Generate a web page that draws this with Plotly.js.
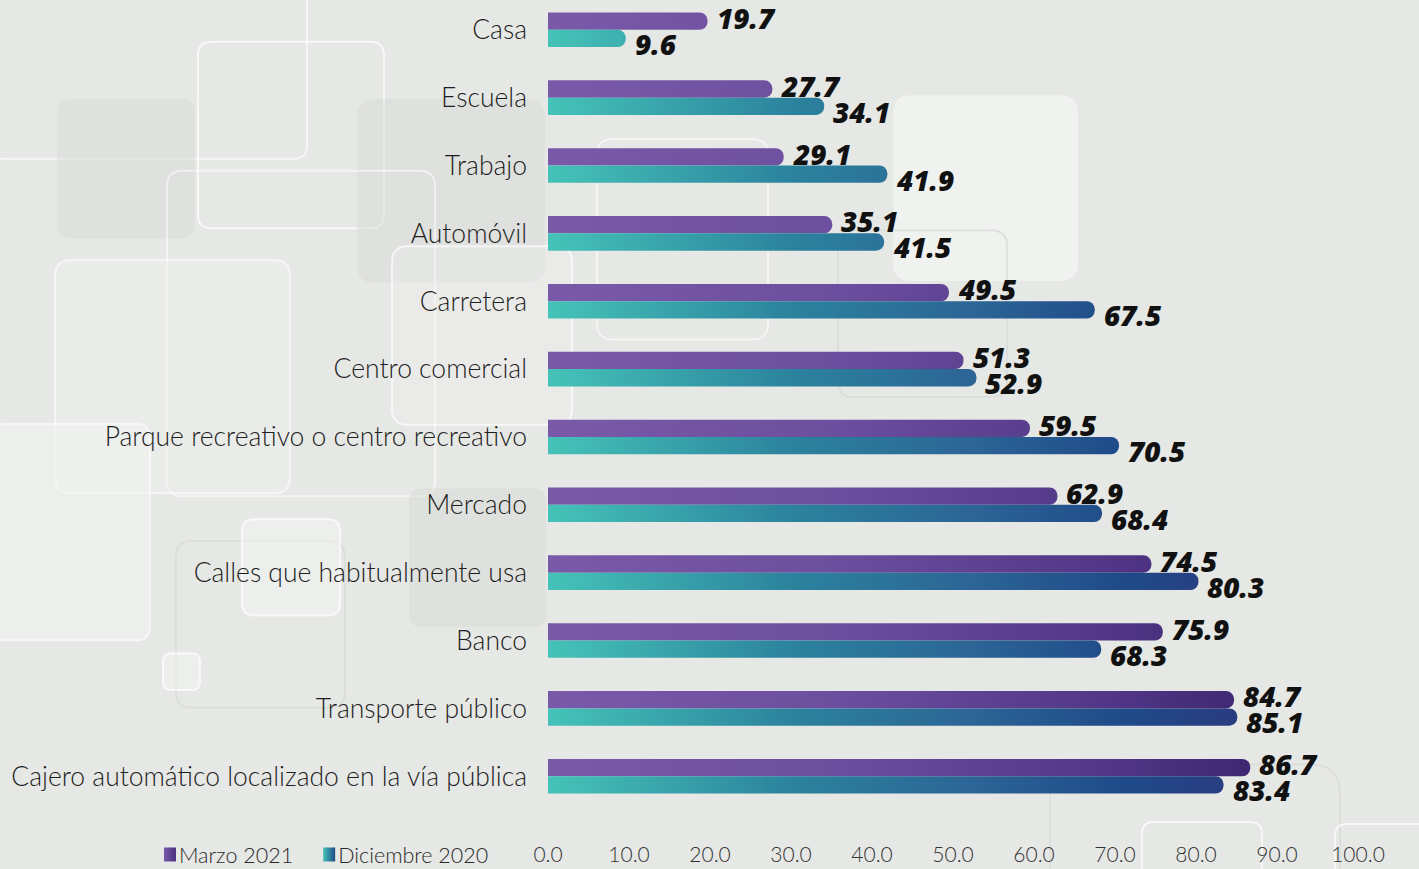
<!DOCTYPE html>
<html>
<head>
<meta charset="utf-8">
<script src="https://cdn.plot.ly/plotly-3.0.1.min.js"></script>
<style>
  html, body { margin: 0; padding: 0; background: #e6e8e5; }
  #chart { width: 1419px; height: 869px; }
</style>
</head>
<body>
<div id="chart"></div>
<script>
// categories, top to bottom
var lugares = [
  'Casa', 'Escuela', 'Trabajo', 'Automóvil', 'Carretera', 'Centro comercial',
  'Parque recreativo o centro recreativo', 'Mercado', 'Calles que habitualmente usa',
  'Banco', 'Transporte público', 'Cajero automático localizado en la vía pública'
];
var marzo2021 = [19.7, 27.7, 29.1, 35.1, 49.5, 51.3, 59.5, 62.9, 74.5, 75.9, 84.7, 86.7];
var diciembre2020 = [9.6, 34.1, 41.9, 41.5, 67.5, 52.9, 70.5, 68.4, 80.3, 68.3, 85.1, 83.4];
var xTicks = [0, 10, 20, 30, 40, 50, 60, 70, 80, 90, 100];

var labelFont = 'Lato, "Noto Sans", sans-serif';
var numFont = '"Open Sans", "Noto Sans", sans-serif';

var trace1 = {
  type: 'bar',
  orientation: 'h',
  name: 'Marzo 2021',
  y: lugares,
  x: marzo2021,
  marker: { color: '#6f51a0', cornerradius: 9 },
  hoverinfo: 'x'
};

var trace2 = {
  type: 'bar',
  orientation: 'h',
  name: 'Diciembre 2020',
  y: lugares,
  x: diciembre2020,
  marker: { color: '#2a7f9c', cornerradius: 9 },
  hoverinfo: 'x'
};

// value labels, nudged above / below like the original
var numStyle = { family: numFont, size: 28, color: '#111', weight: 800, style: 'italic' };
var annotations = [];
lugares.forEach(function (c, i) {
  annotations.push({
    x: marzo2021[i], y: c, xref: 'x', yref: 'y',
    text: marzo2021[i].toFixed(1), showarrow: false,
    xanchor: 'left', xshift: 7, yshift: 12, font: numStyle
  });
  annotations.push({
    x: diciembre2020[i], y: c, xref: 'x', yref: 'y',
    text: diciembre2020[i].toFixed(1), showarrow: false,
    xanchor: 'left', xshift: 7, yshift: -14, font: numStyle
  });
});

// decorative rounded boxes in the background (pixel coords -> paper)
var L = 548, W = 810, B = 818, H = 818;
function box(x0, y0, x1, y1, r, fill, line) {
  var a = function (px) { return ((px - L) / W).toFixed(4); };
  var b = function (py) { return ((B - py) / H).toFixed(4); };
  var p = 'M' + a(x0 + r) + ',' + b(y0) +
    ' L' + a(x1 - r) + ',' + b(y0) + ' Q' + a(x1) + ',' + b(y0) + ' ' + a(x1) + ',' + b(y0 + r) +
    ' L' + a(x1) + ',' + b(y1 - r) + ' Q' + a(x1) + ',' + b(y1) + ' ' + a(x1 - r) + ',' + b(y1) +
    ' L' + a(x0 + r) + ',' + b(y1) + ' Q' + a(x0) + ',' + b(y1) + ' ' + a(x0) + ',' + b(y1 - r) +
    ' L' + a(x0) + ',' + b(y0 + r) + ' Q' + a(x0) + ',' + b(y0) + ' ' + a(x0 + r) + ',' + b(y0) + ' Z';
  return {
    type: 'path', xref: 'paper', yref: 'paper', layer: 'below', path: p,
    fillcolor: fill || 'rgba(0,0,0,0)',
    line: { color: line || 'rgba(0,0,0,0)', width: 2 }
  };
}
var shapes = [
  box(-10, -10, 307, 160, 14, null, 'rgba(255,255,255,0.6)'),
  box(57, 100, 195, 240, 14, 'rgba(214,217,214,0.5)'),
  box(198, 42, 384, 230, 14, null, 'rgba(255,255,255,0.7)'),
  box(357, 100, 545, 285, 18, 'rgba(214,217,214,0.5)'),
  box(167, 172, 435, 500, 16, null, 'rgba(255,255,255,0.55)'),
  box(55, 262, 290, 497, 16, 'rgba(240,242,240,0.45)', 'rgba(255,255,255,0.55)'),
  box(392, 248, 572, 428, 16, 'rgba(240,242,240,0.35)', 'rgba(255,255,255,0.65)'),
  box(597, 140, 768, 342, 16, null, 'rgba(255,255,255,0.55)'),
  box(893, 96, 1078, 283, 18, 'rgba(242,244,242,0.8)'),
  box(838, 232, 1007, 400, 16, null, 'rgba(215,218,215,0.7)'),
  box(-10, 427, 150, 645, 14, 'rgba(240,242,240,0.65)', 'rgba(255,255,255,0.55)'),
  box(409, 492, 546, 632, 14, 'rgba(214,217,214,0.5)'),
  box(176, 545, 345, 713, 16, null, 'rgba(215,218,215,0.7)'),
  box(242, 523, 340, 620, 12, 'rgba(242,244,242,0.6)', 'rgba(255,255,255,0.65)'),
  box(163, 658, 200, 695, 8, 'rgba(242,244,242,0.6)', 'rgba(255,255,255,0.65)'),
  box(1050, 770, 1340, 900, 30, null, 'rgba(215,218,215,0.7)'),
  box(1142, 828, 1262, 900, 12, null, 'rgba(255,255,255,0.65)'),
  box(1335, 830, 1430, 900, 12, null, 'rgba(255,255,255,0.65)')
];

var layout = {
  width: 1419,
  height: 869,
  paper_bgcolor: '#e6e8e5',
  plot_bgcolor: 'rgba(0,0,0,0)',
  margin: { l: 548, r: 61, t: 0, b: 51, pad: 0 },
  barmode: 'group',
  bargap: 0.49,
  bargroupgap: 0,
  showlegend: true,
  legend: {
    orientation: 'h',
    x: -0.4914, xanchor: 'left',
    y: -0.0455, yanchor: 'middle',
    bgcolor: 'rgba(0,0,0,0)',
    font: { family: labelFont, size: 21.5, color: '#2a2a2a', weight: 300 },
    itemwidth: 30,
    traceorder: 'normal'
  },
  xaxis: {
    range: [0, 100],
    tickvals: xTicks,
    ticktext: xTicks.map(function (v) { return v.toFixed(1); }),
    showgrid: false,
    zeroline: false,
    showline: false,
    ticks: '',
    ticklabelstandoff: 28,
    tickfont: { family: labelFont, size: 21, color: '#333', weight: 300 }
  },
  yaxis: {
    type: 'category',
    range: [11.527, -0.439],
    showgrid: false,
    zeroline: false,
    showline: false,
    ticks: '',
    ticklabelstandoff: 20,
    tickfont: { family: labelFont, size: 26.5, color: '#1e1e1e', weight: 300 }
  },
  annotations: annotations,
  shapes: shapes
};

var gd = document.getElementById('chart');
Plotly.newPlot(gd, [trace1, trace2], layout, { displayModeBar: false, staticPlot: true }).then(function () {
  // paint the bars with horizontal gradients like the original
  var svg = gd.querySelector('svg.main-svg');
  var defs = svg.querySelector('defs');
  var NS = 'http://www.w3.org/2000/svg';
  function grad(id, stops, units) {
    var g = document.createElementNS(NS, 'linearGradient');
    g.setAttribute('id', id);
    if (units) {
      g.setAttribute('gradientUnits', 'userSpaceOnUse');
      g.setAttribute('x1', 0); g.setAttribute('x2', 705);
      g.setAttribute('y1', 0); g.setAttribute('y2', 0);
    }
    stops.forEach(function (s) {
      var st = document.createElementNS(NS, 'stop');
      st.setAttribute('offset', s[0]);
      st.setAttribute('stop-color', s[1]);
      g.appendChild(st);
    });
    defs.appendChild(g);
  }
  var purple = [[0, '#7a59a9'], [0.4, '#6c4f9e'], [0.75, '#553a8a'], [1, '#3f2772']];
  var teal = [[0, '#45c3b8'], [0.35, '#2b829d'], [0.6, '#2c6596'], [0.82, '#1f4a88'], [1, '#2c3a80']];
  var legP = [[0, '#7a59a9'], [1, '#4a3080']];
  var legT = [[0, '#45c3b8'], [1, '#1f4a88']];
  grad('gP', purple, true);
  grad('gT', teal, true);
  grad('gPl', legP, false);
  grad('gTl', legT, false);
  var traces = gd.querySelectorAll('.barlayer .trace');
  traces.forEach(function (t, i) {
    t.querySelectorAll('path').forEach(function (p) {
      p.style.fill = i === 0 ? 'url(#gP)' : 'url(#gT)';
    });
  });
  // narrow upright legend swatches, text pulled closer
  gd.querySelectorAll('.legend .traces').forEach(function (t, i) {
    t.querySelectorAll('.legendpoints path').forEach(function (p) {
      p.setAttribute('d', 'M6,7H-6V-7H6Z');
      p.style.fill = i === 0 ? 'url(#gPl)' : 'url(#gTl)';
      p.style.stroke = 'none';
    });
    var txt = t.querySelector('text.legendtext');
    if (txt) txt.setAttribute('x', 29);
  });
  // nudge the legend down a little without letting it push the margin
  var leg = gd.querySelector('g.legend');
  if (leg) leg.setAttribute('transform', (leg.getAttribute('transform') || '') + ' translate(0,6)');
});
</script>
</body>
</html>
